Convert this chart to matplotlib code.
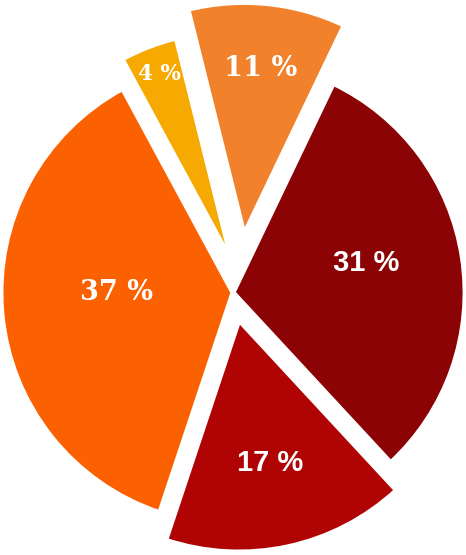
#!/usr/bin/env python3

import numpy as np
import matplotlib
matplotlib.use("Agg")
import matplotlib.pyplot as plt

# slice data, clockwise from the top
labels = ["11 %", "31 %", "17 %", "37 %", "4 %"]
values = [11, 31, 17, 37, 4]

colors = ["#F2812C", "#8B0305", "#B00404", "#FB6100", "#F6A900"]
explode = [0.255, 0.0, 0.121, 0.0, 0.127]
explode_turn = [-5, 0, 0, 0, -20]  # degrees, the slices are not pulled out quite radially
label_dist = [0.72, 0.59, 0.63, 0.50, 0.875]
label_turn = [0, 4, 0, -5, 0]
label_font = ["DejaVu Serif", "Liberation Sans", "Liberation Sans",
              "DejaVu Serif", "DejaVu Serif"]
label_size = [19.5, 21, 21, 19.5, 15.5]


def main():
    fig = plt.figure(figsize=(4.66, 5.55), dpi=100)
    ax = fig.add_axes([0, 0, 1, 1])

    wedges, _ = ax.pie(values, colors=colors,
                       startangle=104, counterclock=False,
                       wedgeprops=dict(edgecolor="white", linewidth=3.6))

    for w, e, et, lab, d, t, fam, fs in zip(wedges, explode, explode_turn, labels,
                                            label_dist, label_turn, label_font, label_size):
        mid = (w.theta1 + w.theta2) / 2
        a = np.deg2rad(mid + et)
        w.set_center((e * np.cos(a), e * np.sin(a)))

        # percentage label inside the slice
        b = np.deg2rad(mid + t)
        cx, cy = w.center
        ax.text(cx + d * np.cos(b), cy + d * np.sin(b), lab,
                ha="center", va="center", color="white",
                fontsize=fs, fontweight="bold", family=fam)

    ax.set_xlim(-1.004, 1.004)
    ax.set_ylim(-1.131, 1.261)
    ax.set_aspect("auto")
    ax.axis("off")

    fig.savefig("out.png", dpi=100, facecolor="white")


if __name__ == "__main__":
    main()
